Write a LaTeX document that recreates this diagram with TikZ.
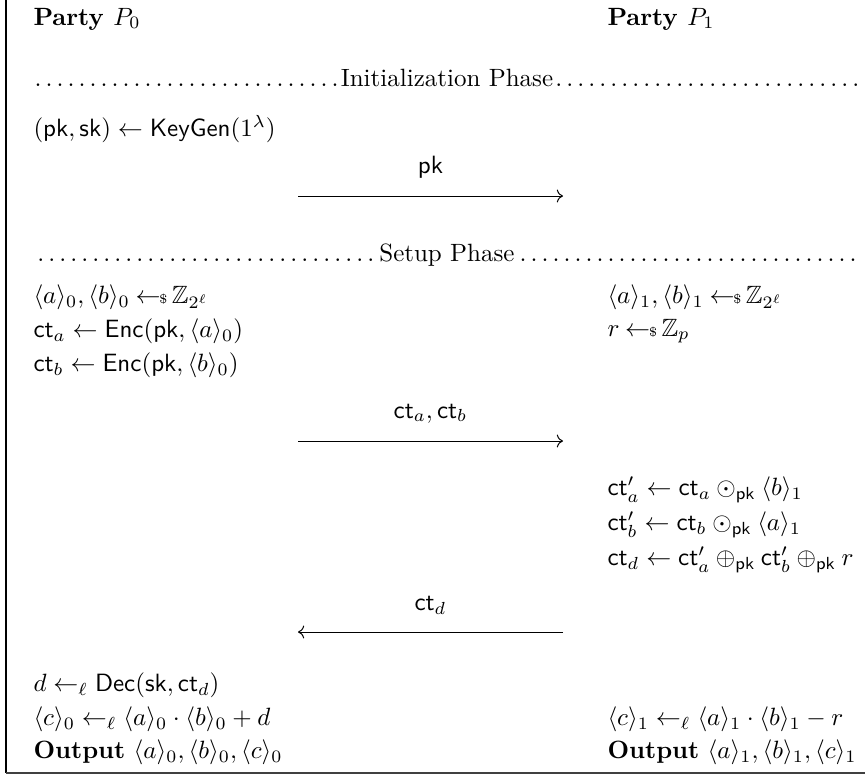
\documentclass[tikz,border=0pt]{standalone}
\usepackage{amsmath,amssymb}
\usetikzlibrary{calc,positioning,arrows.meta}
\newcommand{\pkey}{\mathsf{pk}}
\newcommand{\skey}{\mathsf{sk}}
\newcommand{\ctx}{\mathsf{ct}}
\newcommand{\shr}[2]{\langle #1\rangle_{#2}}
\newcommand{\smpl}{\hskip2.3pt{\gets\!\!\mbox{\tiny${\$}$\normalsize}}\,}

\begin{document}
\begin{tikzpicture}[x=0.4pt, y=-0.4pt,
      row/.style={anchor=west, inner sep=0pt},
      party/.style={anchor=west, inner sep=0pt, font=\bfseries},
      phase/.style={inner sep=0pt},
      msg/.style={inner sep=0pt},
      arr/.style={-{To}, line width=0.4pt}]
    \useasboundingbox (0,0) rectangle (865,776);

    % frame
    \coordinate (ftop) at (6,0);
    \coordinate (fcorner) at (6,773);
    \coordinate (fright) at (865,773);
    \draw[line width=0.5pt] (ftop) -- (fcorner);
    \draw[line width=0.9pt, black!75] (fcorner) -- (fright);

    % parties
    \node[party] (p0) at (33,19) {Party $P_0$};
    \node[party] (p1) at (607,19) {Party $P_1$};

    % phases
    \node[phase] (init) at (447,78)
      {\makebox[331.6pt]{\dotfill Initialization Phase\dotfill}};
    \node[phase] (setup) at (447,255)
      {\makebox[331.6pt]{\dotfill Setup Phase\dotfill}};

    \node[row] (kg) at (33,129) {$(\pkey,\skey)\gets\mathsf{KeyGen}(1^\lambda)$};

    % party P0, setup
    \foreach \y/\txt [count=\i] in {
        297/{\shr{a}{0},\shr{b}{0}\smpl\mathbb{Z}_{2^\ell}},
        331/{\ctx_a\gets\mathsf{Enc}(\pkey,\shr{a}{0})},
        365/{\ctx_b\gets\mathsf{Enc}(\pkey,\shr{b}{0})}}
    {
      \node[row] (l\i) at (33,\y) {$\txt$};
    }

    % party P1, setup
    \foreach \y/\txt [count=\i] in {
        297/{\shr{a}{1},\shr{b}{1}\smpl\mathbb{Z}_{2^\ell}},
        331/{r\smpl\mathbb{Z}_p},
        490/{\ctx'_a\gets\ctx_a\odot_{\pkey}\shr{b}{1}},
        525/{\ctx'_b\gets\ctx_b\odot_{\pkey}\shr{a}{1}},
        560/{\ctx_d\gets\ctx'_a\oplus_{\pkey}\ctx'_b\oplus_{\pkey}r},
        719/{\shr{c}{1}\gets_\ell\shr{a}{1}\cdot\shr{b}{1}-r}}
    {
      \node[row] (r\i) at (607,\y) {$\txt$};
    }

    % party P0, output
    \foreach \y/\txt [count=\i] in {
        685/{d\gets_\ell\mathsf{Dec}(\skey,\ctx_d)},
        719/{\shr{c}{0}\gets_\ell\shr{a}{0}\cdot\shr{b}{0}+d}}
    {
      \node[row] (o\i) at (33,\y) {$\txt$};
    }
    \node[row] (out0) at (33,752)
      {\textbf{Output} $\shr{a}{0},\shr{b}{0},\shr{c}{0}$};
    \node[row] (out1) at (607,752)
      {\textbf{Output} $\shr{a}{1},\shr{b}{1},\shr{c}{1}$};

    % messages
    \foreach \n/\y/\lbl in {pk/196/{\pkey}, ab/441/{\ctx_a,\ctx_b}, d/632/{\ctx_d}}
    {
      \coordinate (\n L) at (298,\y);
      \coordinate (\n R) at (563,\y);
      \node[msg, above=7pt of $(\n L)!0.5!(\n R)$] (\n lbl) {$\lbl$};
    }
    \draw[arr] (pkL) -- (pkR);
    \draw[arr] (abL) -- (abR);
    \draw[arr] (dR) -- (dL);
  \end{tikzpicture}
\end{document}
